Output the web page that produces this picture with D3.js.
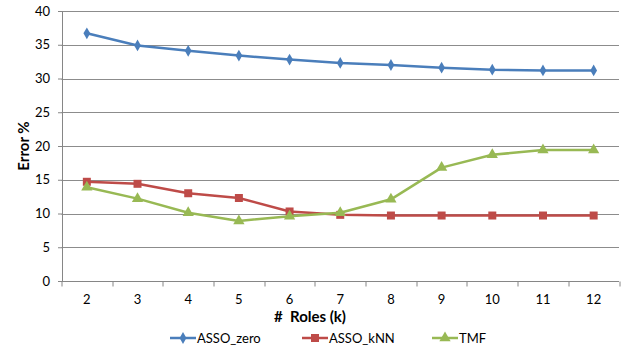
<!DOCTYPE html>
<html>
<head>
<meta charset="utf-8">
<script src="https://cdn.jsdelivr.net/npm/d3@7"></script>
<style>
  body { margin: 0; background: #fff; }
  text { font-family: Lato, "Liberation Sans", sans-serif; }
</style>
</head>
<body>
<div id="chart"></div>
<script>
// Data
const roles = [2, 3, 4, 5, 6, 7, 8, 9, 10, 11, 12];
const assoZero = [36.7, 34.9, 34.1, 33.4, 32.8, 32.3, 32.0, 31.6, 31.3, 31.2, 31.2];
const assoKnn = [14.7, 14.4, 13.0, 12.3, 10.3, 9.8, 9.7, 9.7, 9.7, 9.7, 9.7];
const tmf = [13.9, 12.2, 10.1, 8.9, 9.6, 10.1, 12.1, 16.8, 18.7, 19.4, 19.4];
const yTicks = [0, 5, 10, 15, 20, 25, 30, 35, 40];

const series = [
  { name: "ASSO_zero", values: assoZero, color: "#4A7EBB", symbol: d3.symbolDiamond, size: 40 },
  { name: "ASSO_kNN", values: assoKnn, color: "#BE4B48", symbol: d3.symbolSquare, size: 64 },
  { name: "TMF", values: tmf, color: "#98B954", symbol: d3.symbolTriangle, size: 55 }
];

const W = 628, H = 350;
const margin = { top: 11, right: 9, bottom: 69, left: 61.5 };
const width = W - margin.left - margin.right;
const height = H - margin.top - margin.bottom;

const svg = d3.select("#chart")
  .append("svg")
  .attr("width", W)
  .attr("height", H);

const g = svg.append("g")
  .attr("transform", `translate(${margin.left},${margin.top})`);

// Scales
const x = d3.scaleBand()
  .domain(roles)
  .range([0, width]);

const y = d3.scaleLinear()
  .domain([0, 40])
  .range([height, 0]);

// Gridlines
g.append("g")
  .selectAll("line")
  .data(yTicks.filter(d => d > 0))
  .enter()
  .append("line")
  .attr("x1", 0)
  .attr("x2", width)
  .attr("y1", d => Math.round(y(d)) + 0.5)
  .attr("y2", d => Math.round(y(d)) + 0.5)
  .attr("stroke", "#8c8c8c")
  .attr("stroke-width", 1);

// Y axis
const yAxis = g.append("g")
  .attr("transform", "translate(0.5,0)")
  .call(d3.axisLeft(y).tickValues(yTicks).tickSize(4).tickPadding(8));
yAxis.select(".domain").attr("stroke", "#868686");
yAxis.selectAll(".tick line").attr("stroke", "#868686");
yAxis.selectAll(".tick text")
  .attr("font-size", 13)
  .attr("fill", "#000");

// X axis: ticks on category boundaries, labels centered
const xAxis = g.append("g")
  .attr("transform", `translate(0,${Math.round(height) + 0.5})`);
xAxis.append("line")
  .attr("x1", 0).attr("x2", width)
  .attr("stroke", "#868686");
xAxis.selectAll(".xt")
  .data(roles.concat([null]))
  .enter()
  .append("line")
  .attr("class", "xt")
  .attr("x1", (d, i) => Math.round(i * x.step()) + 0.5)
  .attr("x2", (d, i) => Math.round(i * x.step()) + 0.5)
  .attr("y1", 0)
  .attr("y2", 5)
  .attr("stroke", "#868686");
xAxis.selectAll(".xl")
  .data(roles)
  .enter()
  .append("text")
  .attr("class", "xl")
  .attr("x", d => x(d) + x.bandwidth() / 2)
  .attr("y", 22)
  .attr("text-anchor", "middle")
  .attr("font-size", 13)
  .attr("fill", "#000")
  .text(d => d);

// Lines and markers
const line = d3.line()
  .x((d, i) => x(roles[i]) + x.bandwidth() / 2)
  .y(d => y(d));

series.forEach(s => {
  g.append("path")
    .datum(s.values)
    .attr("fill", "none")
    .attr("stroke", s.color)
    .attr("stroke-width", 2.5)
    .attr("stroke-linejoin", "round")
    .attr("d", line);

  g.selectAll(null)
    .data(s.values)
    .enter()
    .append("path")
    .attr("transform", (d, i) => `translate(${x(roles[i]) + x.bandwidth() / 2},${y(d)})`)
    .attr("d", d3.symbol().type(s.symbol).size(s.size))
    .attr("fill", s.color);
});

// Axis titles
svg.append("text")
  .attr("transform", `translate(29,${margin.top + height / 2}) rotate(-90)`)
  .attr("text-anchor", "middle")
  .attr("font-size", 15)
  .attr("font-weight", "bold")
  .attr("fill", "#000")
  .text("Error %");

svg.append("text")
  .attr("x", 310)
  .attr("y", 322)
  .attr("text-anchor", "middle")
  .attr("font-size", 15)
  .attr("font-weight", "bold")
  .attr("fill", "#000")
  .attr("xml:space", "preserve")
  .text("#  Roles (k)");

// Legend
const legendX = [170, 302, 432];
const legend = svg.append("g");
series.forEach((s, i) => {
  const lg = legend.append("g")
    .attr("transform", `translate(${legendX[i]},338)`);
  lg.append("line")
    .attr("x1", 0).attr("x2", 26)
    .attr("stroke", s.color)
    .attr("stroke-width", 2.5);
  lg.append("path")
    .attr("transform", "translate(13,0)")
    .attr("d", d3.symbol().type(s.symbol).size(s.size))
    .attr("fill", s.color);
  lg.append("text")
    .attr("x", 27)
    .attr("y", 4.5)
    .attr("font-size", 13)
    .attr("fill", "#000")
    .text(s.name);
});
</script>
</body>
</html>
